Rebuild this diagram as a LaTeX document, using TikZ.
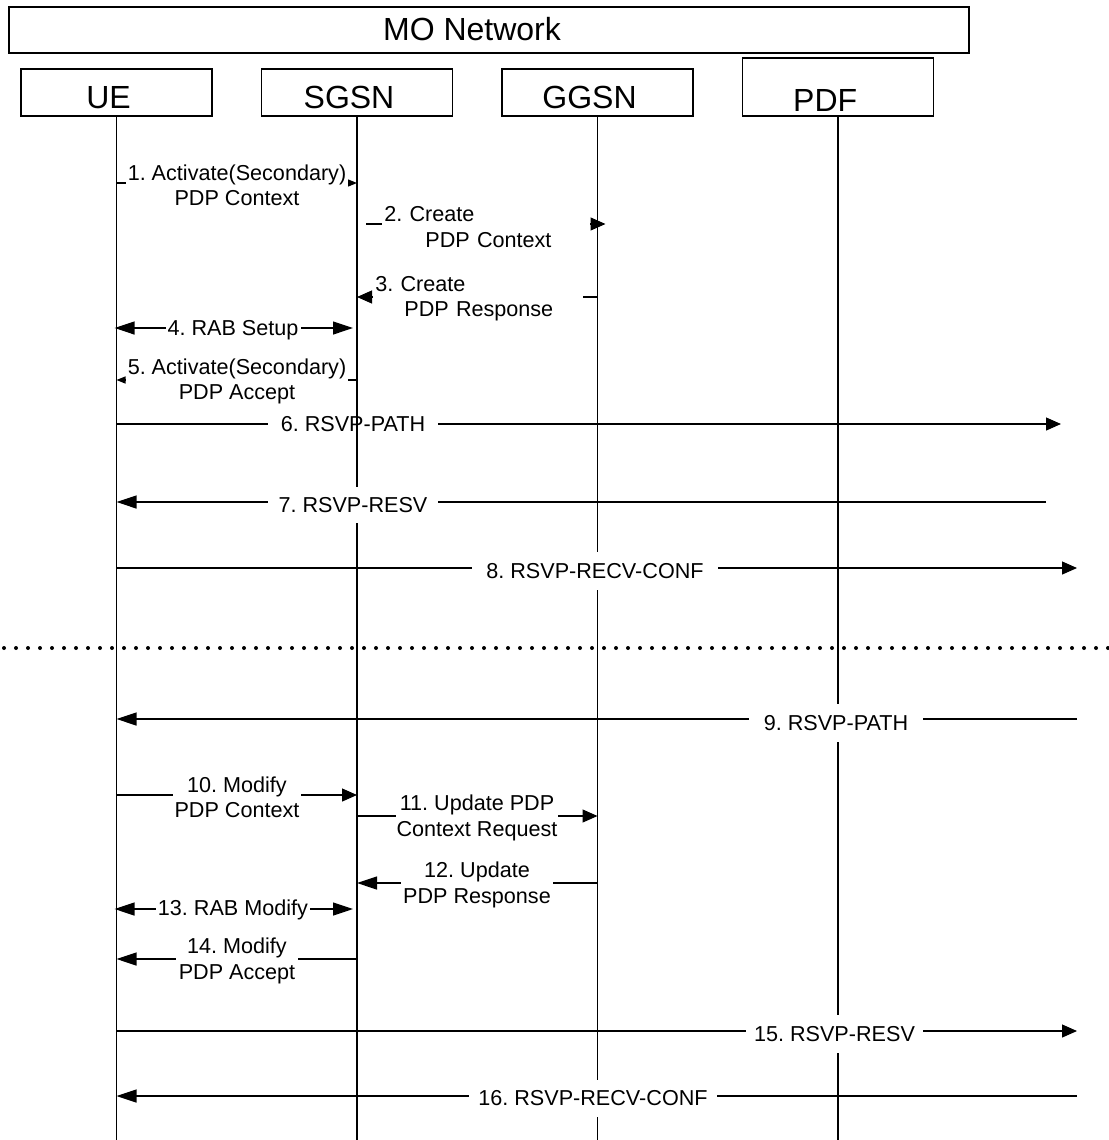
\documentclass[tikz,border=0pt]{standalone}
\usepackage{fontspec}
\setmainfont{Liberation Sans}
\usetikzlibrary{positioning,arrows.meta}
\frenchspacing

\tikzset{
  box/.style={draw, line width=0.8pt, inner sep=0pt, font=\fontsize{16}{19}\selectfont},
  entity/.style={box, minimum width=95.5pt, minimum height=23.35pt, text height=15.9pt, text depth=0pt},
  lifeline/.style={line width=0.9pt},
  msg/.style={line width=0.6pt},
  lbl/.style={fill=white, inner sep=0pt, align=center, font=\fontsize{10.8}{12.75}\selectfont},
  shorthead/.style={-{Triangle[length=7.5pt,width=6.5pt]}},
  longhead/.style={-{Triangle[length=10pt,width=6.5pt]}},
  tinyhead/.style={-{Triangle[length=4.5pt,width=3.5pt]}},
  twohead/.style={{Triangle[length=10pt,width=6.5pt]}-{Triangle[length=10pt,width=6.5pt]}},
  sep/.style={line width=2pt, line cap=round, dash pattern=on 0pt off 6pt}
}

\begin{document}
\begin{tikzpicture}[x=0.5pt,y=-0.5pt]
\useasboundingbox (0,0) rectangle (1108,1140);

% header and entities
\node (mo) [box, minimum width=480pt, minimum height=23pt, text height=10.3pt, text depth=0pt] at (489,30.2) {MO Network\hspace*{17pt}};
\node (ue) [entity] at (116.5,92.35) {UE\hspace*{8pt}};
\node (sgsn) [entity, right=23.95pt of ue] {SGSN\hspace*{8pt}};
\node (ggsn) [entity, right=23.95pt of sgsn] {GGSN\hspace*{8pt}};
\node (pdf) [entity, minimum height=29pt, text height=25.1pt, right=23.95pt of ggsn.south east, anchor=south west] {PDF\hspace*{12.8pt}};

% 6 lies under the lifelines
\coordinate (e6) at (1061,424);
\draw[msg, shorthead] (ue |- 0,424) -- (e6);
\node (m6) [lbl, minimum width=84.75pt] at (353,424.5) {6. RSVP-PATH};

\foreach \n in {ue,sgsn,ggsn,pdf}
  \draw[lifeline] (\n.south) -- (\n.south |- 0,1140);

% set-up of the secondary context
\draw[msg, tinyhead] (ue |- 0,183) -- (sgsn |- 0,183);
\node (m1) [lbl, minimum width=111pt] at (237,185.5) {1. Activate(Secondary)\\PDP Context};

\draw[msg, shorthead] ([xshift=4.5pt]sgsn |- 0,224) -- ([xshift=4pt]ggsn |- 0,224);
\node (m2) [lbl, text width=102pt, inner xsep=1pt, align=left, anchor=west] at (382,227) {2. Create\\\hspace*{20.5pt}PDP Context};

\draw[msg, shorthead] (ggsn |- 0,297) -- (sgsn |- 0,297);
\node (m3) [lbl, text width=103pt, inner xsep=1pt, align=left, anchor=west] at (373,298.5) {3. Create\\\hspace*{14.5pt}PDP Response};

\draw[msg, twohead] ([xshift=-1pt]ue |- 0,328) -- ([xshift=-2pt]sgsn |- 0,328);
\node (m4) [lbl, minimum width=67.5pt] at (233,330) {4. RAB Setup};

\draw[msg, tinyhead] (sgsn |- 0,380) -- (ue |- 0,380);
\node (m5) [lbl, minimum width=111pt] at (237,381.5) {5. Activate(Secondary)\\PDP Accept};

\coordinate (e7) at (1046,502);
\draw[msg, longhead] (e7) -- (ue |- 0,502);
\node (m7) [lbl, minimum width=84.75pt, minimum height=18pt] at (353,505) {7. RSVP-RESV};

\coordinate (e8) at (1077,568);
\draw[msg, shorthead] (ue |- 0,568) -- (e8);
\node (m8) [lbl, minimum width=123.2pt, minimum height=19pt] at (595,571) {8. RSVP-RECV-CONF};

% separator
\coordinate (sepl) at (4,648);
\coordinate (sepr) at (1108,648);
\draw[sep] (sepl) -- (sepr);

% modification
\coordinate (e9) at (1077,719);
\draw[msg, longhead] (e9) -- (ue |- 0,719);
\node (m9) [lbl, minimum width=87pt, minimum height=19pt] at (836,723) {9. RSVP-PATH};

\draw[msg, shorthead] (ue |- 0,795) -- (sgsn |- 0,795);
\node (m10) [lbl, minimum width=64.25pt] at (237,797.5) {10. Modify\\PDP Context};

\draw[msg, shorthead] (sgsn |- 0,816) -- (ggsn |- 0,816);
\node (m11) [lbl, minimum width=81.3pt] at (477,818) {11. Update PDP\\Context Request};

\draw[msg, longhead] (ggsn |- 0,883) -- (sgsn |- 0,883);
\node (m12) [lbl, minimum width=76pt] at (477,885) {12. Update\\PDP Response};

\draw[msg, twohead] ([xshift=-1pt]ue |- 0,909) -- ([xshift=-2pt]sgsn |- 0,909);
\node (m13) [lbl, minimum width=77pt] at (233,910) {13. RAB Modify};

\draw[msg, longhead] (sgsn |- 0,959) -- (ue |- 0,959);
\node (m14) [lbl, minimum width=61pt] at (237,961) {14. Modify\\PDP Accept};

\coordinate (e15) at (1077,1031);
\draw[msg, shorthead] (ue |- 0,1031) -- (e15);
\node (m15) [lbl, minimum width=88.5pt, minimum height=19pt] at (834.5,1034) {15. RSVP-RESV};

\coordinate (e16) at (1077,1096);
\draw[msg, longhead] (e16) -- (ue |- 0,1096);
\node (m16) [lbl, minimum width=123.7pt, minimum height=18.5pt] at (593,1098.5) {16. RSVP-RECV-CONF};
\end{tikzpicture}
\end{document}
